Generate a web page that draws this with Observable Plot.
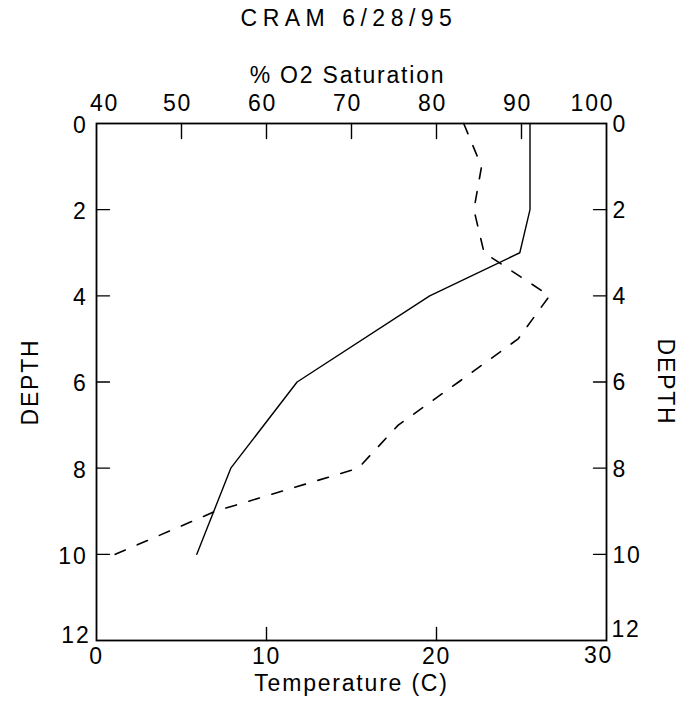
<!DOCTYPE html>
<html>
<head>
<meta charset="utf-8">
<script src="https://cdn.jsdelivr.net/npm/d3@7"></script>
<script src="https://cdn.jsdelivr.net/npm/@observablehq/plot@0.6"></script>
<style>
  html, body { margin: 0; padding: 0; background: #fff; }
  #chart { width: 694px; height: 705px; }
  #title {
    height: 40px; line-height: 37px; text-align: center;
    font-family: "Liberation Sans", Arial, sans-serif; font-size: 23px;
    letter-spacing: 5.5px; color: #000; padding-left: 4px;
  }
  svg text { letter-spacing: 1.8px; }
</style>
</head>
<body>
<div id="chart">
  <div id="title">CRAM 6/28/95</div>
</div>
<script>
// Profile sampled at CRAM, 6/28/95
const o2Depth = [0, 1, 2, 3, 4, 5, 6, 7, 8, 9, 10];
const o2Saturation = [83.2, 85.3, 84.4, 85.6, 93.3, 89.6, 82.6, 75.5, 70.8, 54.0, 42.2];
const tempDepth = [0, 2, 3, 4, 6, 8, 10];
const temperature = [25.5, 25.5, 24.9, 19.6, 11.8, 7.9, 5.9];

// Axis ticks
const depthTicks = [0, 2, 4, 6, 8, 10, 12];
const tempTicks = [0, 10, 20, 30];
const o2Ticks = [40, 50, 60, 70, 80, 90, 100];
const tempDomain = [0, 30];
const o2Domain = [40, 100];

// The O2 axis shares the frame with temperature: map saturation onto the x scale
const o2ToX = d3.scaleLinear().domain(o2Domain).range(tempDomain);

const tempData = tempDepth.map((d, i) => ({depth: d, temp: temperature[i]}));
const o2Data = o2Depth.map((d, i) => ({depth: d, o2: o2Saturation[i]}));

// Short inward tick shapes for vector marks
const tickShape = (dx, dy) => ({draw(ctx, l) { ctx.moveTo(0, 0); ctx.lineTo(dx * l, dy * l); }});
const inner = (v) => v.slice(1, -1);
const first = (v) => v.slice(0, 1);
const last = (v) => v.slice(-1);
const middle = (v) => v.slice(0, -1);

const fontSize = 23;
const black = {fill: "#000", lineAnchor: "middle"};

const chart = Plot.plot({
  width: 694,
  height: 665,
  marginLeft: 96,
  marginRight: 88,
  marginTop: 83,
  marginBottom: 65,
  x: {domain: tempDomain, axis: null},
  y: {domain: [depthTicks[0], depthTicks[depthTicks.length - 1]], reverse: true, axis: null},
  style: {fontFamily: "'Liberation Sans', Arial, sans-serif", fontSize: fontSize + "px", color: "#000", background: "#fff"},
  marks: [
    Plot.frame({stroke: "#000", strokeWidth: 1.8}),

    // inward ticks on all four sides
    Plot.vector(inner(tempTicks), {x: d => d, frameAnchor: "bottom", length: 13, anchor: "start", shape: tickShape(0, -1), stroke: "#000", strokeWidth: 1.4}),
    Plot.vector(inner(o2Ticks), {x: d => o2ToX(d), frameAnchor: "top", length: 15, anchor: "start", shape: tickShape(0, 1), stroke: "#000", strokeWidth: 1.4}),
    Plot.vector(inner(depthTicks), {y: d => d, frameAnchor: "left", length: 13, anchor: "start", shape: tickShape(1, 0), stroke: "#000", strokeWidth: 1.4}),
    Plot.vector(inner(depthTicks), {y: d => d, frameAnchor: "right", length: 13, anchor: "start", shape: tickShape(-1, 0), stroke: "#000", strokeWidth: 1.4}),

    // bottom tick labels (temperature)
    Plot.text(middle(tempTicks), {x: d => d, frameAnchor: "bottom", dy: 16, text: d => String(d), ...black}),
    Plot.text(last(tempTicks), {x: d => d, frameAnchor: "bottom", dy: 15, dx: -8, text: d => String(d), ...black}),

    // top tick labels (% O2 saturation)
    Plot.text(first(o2Ticks), {x: d => o2ToX(d), frameAnchor: "top", dy: -20, dx: 8, text: d => String(d), ...black}),
    Plot.text(inner(o2Ticks), {x: d => o2ToX(d), frameAnchor: "top", dy: -20, dx: -4, text: d => String(d), ...black}),
    Plot.text(last(o2Ticks), {x: d => o2ToX(d), frameAnchor: "top", dy: -20, dx: -14, text: d => String(d), ...black}),

    // depth labels, left and right
    Plot.text(middle(depthTicks), {y: d => d, frameAnchor: "left", dx: -9, dy: 2, textAnchor: "end", text: d => String(d), ...black}),
    Plot.text(last(depthTicks), {y: d => d, frameAnchor: "left", dx: -6, dy: -5, textAnchor: "end", text: d => String(d), ...black}),
    Plot.text(middle(depthTicks), {y: d => d, frameAnchor: "right", dx: 6, dy: 1, textAnchor: "start", text: d => String(d), ...black}),
    Plot.text(last(depthTicks), {y: d => d, frameAnchor: "right", dx: 5, dy: -11, textAnchor: "start", text: d => String(d), ...black}),

    // axis titles
    Plot.text(["% O2 Saturation"], {frameAnchor: "top", dy: -48, dx: -4, ...black}),
    Plot.text(["Temperature (C)"], {frameAnchor: "bottom", dy: 43, ...black}),
    Plot.text(["DEPTH"], {frameAnchor: "left", dx: -66, rotate: -90, textAnchor: "middle", ...black}),
    Plot.text(["DEPTH"], {frameAnchor: "right", dx: 59, rotate: 90, textAnchor: "middle", ...black}),

    // profiles
    Plot.line(o2Data, {x: d => o2ToX(d.o2), y: "depth", stroke: "#000", strokeWidth: 1.6, strokeDasharray: "11,13"}),
    Plot.line(tempData, {x: "temp", y: "depth", stroke: "#000", strokeWidth: 1.4})
  ]
});

document.getElementById("chart").appendChild(chart);
</script>
</body>
</html>
